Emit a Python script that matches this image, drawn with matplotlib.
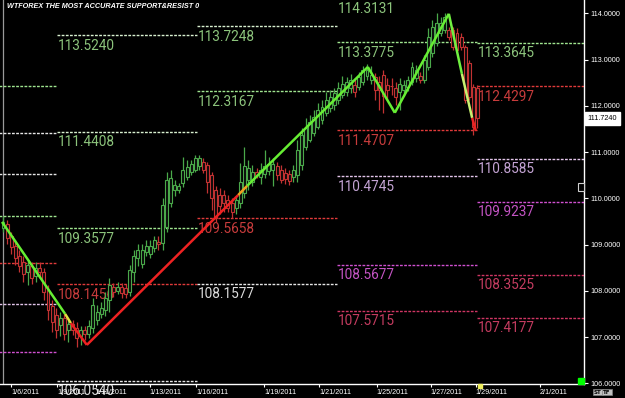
import matplotlib.pyplot as plt
from matplotlib.patches import Rectangle

# 4-hour candles, EURJPY-style price scale
opens = [109.358, 109.445, 109.185, 108.969, 108.753, 108.623, 108.407, 108.537, 108.320, 108.493,
         108.407, 108.018, 107.672, 107.477, 107.261, 107.412, 107.153, 107.282, 107.196, 107.023,
         107.153, 107.066, 107.196, 107.369, 107.499, 107.585, 107.801, 108.083, 107.996, 108.083,
         108.061, 107.975, 108.407, 108.710, 108.580, 108.839, 108.796, 108.926, 109.055, 109.034,
         109.380, 109.899, 110.180, 110.180, 110.331, 110.461, 110.569, 110.612, 110.699, 110.785,
         110.720, 110.504, 110.180, 110.072, 110.072, 109.964, 109.899, 109.791, 109.899, 110.115,
         110.396, 110.353, 110.569, 110.461, 110.526, 110.591, 110.612, 110.699, 110.612, 110.547,
         110.526, 110.461, 110.504, 110.720, 111.110, 111.261, 111.412, 111.542, 111.693, 111.845,
         111.953, 112.018, 112.126, 112.234, 112.299, 112.385, 112.450, 112.407, 112.515, 112.645,
         112.558, 112.623, 112.515, 112.666, 112.450, 112.429, 112.385, 112.299, 112.342, 112.407,
         112.515, 112.601, 112.645, 112.558, 112.839, 113.142, 113.358, 113.575, 113.639, 113.639,
         113.639, 113.575, 113.488, 113.272, 112.926, 112.407, 112.385]
highs = [109.618, 109.531, 109.272, 109.099, 108.883, 108.753, 108.666, 108.623, 108.623, 108.623,
         108.493, 108.126, 107.801, 107.629, 107.542, 107.499, 107.412, 107.369, 107.326, 107.239,
         107.239, 107.369, 107.845, 107.693, 107.758, 107.975, 108.277, 108.169, 108.191, 108.169,
         108.148, 108.558, 108.883, 109.012, 109.012, 109.099, 109.099, 109.185, 109.185, 110.007,
         110.569, 110.612, 110.396, 110.331, 110.893, 110.828, 110.828, 110.937, 110.937, 110.872,
         110.785, 110.569, 110.266, 110.223, 110.180, 110.072, 110.007, 110.050, 110.764, 111.110,
         110.828, 110.720, 110.656, 110.764, 111.045, 110.893, 110.872, 110.785, 110.720, 110.656,
         110.612, 110.720, 111.261, 111.520, 111.737, 111.801, 111.910, 112.061, 112.126, 112.299,
         112.342, 112.385, 112.515, 112.645, 112.623, 112.688, 112.601, 112.731, 112.861, 112.904,
         112.861, 112.710, 112.645, 112.774, 112.601, 112.601, 112.515, 112.601, 112.558, 112.645,
         112.947, 112.883, 112.731, 113.099, 113.683, 113.856, 114.007, 113.920, 114.007, 113.704,
         113.704, 113.683, 113.575, 113.315, 112.991, 112.472, 112.450]
lows = [109.272, 109.012, 108.796, 108.558, 108.407, 108.191, 108.126, 108.148, 108.191, 108.277,
        107.801, 107.369, 107.110, 106.980, 107.023, 106.937, 106.893, 107.045, 106.785, 106.828,
        106.937, 106.980, 107.088, 107.261, 107.412, 107.455, 107.542, 107.866, 107.931, 107.845,
        107.845, 107.888, 108.191, 108.537, 108.493, 108.753, 108.710, 108.839, 108.883, 108.883,
        109.272, 109.812, 110.050, 110.115, 110.245, 110.396, 110.504, 110.569, 110.612, 110.547,
        110.115, 109.747, 109.488, 109.661, 109.704, 109.704, 109.574, 109.661, 109.791, 110.007,
        110.180, 110.266, 110.439, 110.310, 110.439, 110.504, 110.266, 110.396, 110.331, 110.310,
        110.288, 110.353, 110.353, 110.612, 111.045, 111.218, 111.347, 111.499, 111.607, 111.780,
        111.866, 111.910, 112.039, 112.169, 112.212, 112.277, 112.191, 112.342, 112.450, 112.558,
        112.472, 112.126, 111.910, 111.845, 112.126, 112.234, 112.018, 111.910, 112.212, 112.320,
        112.450, 112.515, 112.493, 112.493, 112.774, 113.056, 113.293, 113.510, 113.575, 113.423,
        113.207, 113.164, 113.207, 112.061, 112.126, 111.369, 111.520]
closes = [109.488, 109.142, 108.947, 108.710, 108.537, 108.364, 108.558, 108.277, 108.493, 108.407,
          107.975, 107.585, 107.326, 107.153, 107.412, 107.066, 107.282, 107.153, 106.980, 107.153,
          107.066, 107.239, 107.693, 107.542, 107.629, 107.845, 108.126, 107.975, 108.083, 107.953,
          107.931, 108.450, 108.753, 108.883, 108.883, 108.969, 108.969, 109.099, 109.012, 109.855,
          110.396, 110.439, 110.288, 110.266, 110.612, 110.677, 110.742, 110.872, 110.872, 110.612,
          110.353, 110.007, 109.574, 109.834, 109.899, 109.791, 109.704, 109.964, 110.353, 110.699,
          110.656, 110.569, 110.504, 110.612, 110.699, 110.742, 110.742, 110.504, 110.396, 110.418,
          110.374, 110.612, 111.045, 111.369, 111.520, 111.650, 111.758, 111.910, 111.974, 112.126,
          112.191, 112.277, 112.385, 112.472, 112.515, 112.558, 112.299, 112.623, 112.774, 112.774,
          112.666, 112.342, 112.342, 112.212, 112.342, 112.418, 112.191, 112.472, 112.450, 112.558,
          112.839, 112.774, 112.558, 112.991, 113.488, 113.704, 113.791, 113.791, 113.920, 113.488,
          113.272, 113.207, 113.272, 112.126, 112.191, 111.542, 111.737]
last_price = 111.724

# zigzag vertices (bar, price); extra points where the line changes colour
zigzag_x = [-0.24, 15.2, 16.6, 20.5, 57.5, 59.7, 89.2, 95.8, 109.0, 112.2, 114.7, 115.6]
zigzag_y = [109.49, 107.50, 107.30, 106.83, 110.07, 110.27, 112.84, 111.85, 113.99, 112.69, 111.74, 111.46]

# support / resistance levels, one block per trading day
day_edges = [-1.0, 13.2, 47.4, 81.7, 115.9, 142.05]
level_day = [0, 0, 0, 0, 0, 0, 0,
             1, 1, 1, 1, 1,
             2, 2, 2, 2,
             3, 3, 3, 3, 3, 3,
             4, 4, 4, 4, 4, 4]
level_price = [112.428, 111.412, 110.526, 109.618, 108.601, 107.715, 106.677,
               113.5240, 111.4408, 109.3577, 108.1456, 106.0540,
               113.7248, 112.3167, 109.5658, 108.1577,
               114.3131, 113.3775, 111.4707, 110.4745, 108.5677, 107.5715,
               113.3645, 112.4297, 110.8585, 109.9237, 108.3525, 107.4177]
level_kind = ["R", "W", "W", "R", "P", "S1", "S2",
              "Rw", "Rw", "R", "P", "W",
              "Rw", "R", "P", "W",
              "R", "R", "P", "S1", "S2", "S3",
              "R", "P", "S1", "S2", "S3", "S3"]

date_labels = ["1/6/2011", "1/9/2011", "1/11/2011", "1/13/2011", "1/16/2011", "1/19/2011",
               "1/21/2011", "1/25/2011", "1/27/2011", "1/29/2011", "2/1/2011"]
date_bars = [2.0, 13.2, 22.7, 35.9, 47.2, 63.8, 77.3, 91.4, 104.6, 115.6, 131.3]
price_ticks = [106, 107, 108, 109, 110, 111, 112, 113, 114]

W, H = 625, 398
fig = plt.figure(figsize=(W / 100, H / 100), dpi=100, facecolor="black")
ax = fig.add_axes([0, 14 / H, 584 / W, 384 / H], facecolor="black")
ax.set_xlim(-0.73, 142.05)
ax.set_ylim(105.985, 114.288)

# level lines + labels
line_col = {"R": "#9fe58f", "Rw": "#d8f0d0", "W": "#e6e6e6", "P": "#e03a3a",
            "S1": "#e2c4ea", "S2": "#d050d0", "S3": "#cf3563"}
text_col = {"R": "#8cc47c", "Rw": "#8cc47c", "W": "#dcdcdc", "P": "#c83c3c",
            "S1": "#c4a4d4", "S2": "#c454c4", "S3": "#c43c60"}
for d, p, k in zip(level_day, level_price, level_kind):
    x0, x1 = day_edges[d], day_edges[d + 1]
    ax.hlines(p, x0, x1, colors=line_col[k], linestyles=(0, (2, 1)), lw=1, zorder=1)
    if d > 0:
        ax.annotate(f"{p:.4f}", xy=(x0, p), xytext=(0.8, -2.6), textcoords="offset points",
                    ha="left", va="top", fontsize=9.8, color=text_col[k],
                    family=["Roboto", "DejaVu Sans"], fontweight="normal",
                    annotation_clip=False, zorder=1.5)

# candles
up_c, dn_c = "#4aa84a", "#c23232"
for i, (o, h, l, c) in enumerate(zip(opens, highs, lows, closes)):
    col = up_c if c >= o else dn_c
    ax.vlines(i, l, h, colors=col, lw=0.9, zorder=2)
    lo, hi = min(o, c), max(o, c)
    ax.add_patch(Rectangle((i - 0.36, lo), 0.72, max(hi - lo, 0.01), facecolor="#0a0a0a",
                           edgecolor=col, lw=0.8, zorder=2.1))

# zigzag, coloured per leg
seg_col = ["#66ee33", "#e0e040", "#ee2222", "#ee2222", "#f0a020", "#66ee33",
           "#66ee33", "#66ee33", "#70f040", "#c8f070", "#ee2222"]
for j in range(len(zigzag_x) - 1):
    ax.plot(zigzag_x[j:j + 2], zigzag_y[j:j + 2], color=seg_col[j], lw=1.8,
            solid_capstyle="butt", zorder=3)

ax.axvline(-0.07, color="#9a9a9a", lw=0.9, zorder=0.5)

# axes styling
for s in ["left", "top"]:
    ax.spines[s].set_visible(False)
for s in ["right", "bottom"]:
    ax.spines[s].set_color("white")
    ax.spines[s].set_linewidth(1)
ax.yaxis.tick_right()
ax.set_yticks(price_ticks)
ax.set_yticklabels([f"{t:.4f}" for t in price_ticks])
ax.set_xticks(date_bars)
ax.set_xticklabels(date_labels)
ax.tick_params(axis="y", colors="white", length=3, width=0.8, pad=1.5, labelsize=5.2)
ax.tick_params(axis="x", colors="white", length=2, width=0.8, pad=1.5, labelsize=5.2)
for t in ax.get_xticklabels():
    t.set_ha("left")
    t.set_family("Liberation Sans")
for t in ax.get_yticklabels():
    t.set_family("Liberation Sans")

# current price box
ax.text(1.006, last_price, f"{last_price:.4f}", transform=ax.get_yaxis_transform(),
        ha="left", va="center", fontsize=5.2, color="black", family="Liberation Sans",
        bbox=dict(boxstyle="square,pad=0.4", fc="white", ec="white"), clip_on=False)

fig.text(7 / W, 1 - 3 / H, "WTFOREX THE MOST ACCURATE SUPPORT&RESIST 0", color="white",
         fontsize=5.2, fontweight="bold", fontstyle="italic", family="Liberation Sans",
         ha="left", va="top")

# little terminal widgets
fig.add_artist(Rectangle((578 / W, 14 / H), 6 / W, 6 / H, transform=fig.transFigure,
                         color="#00ff00"))
fig.add_artist(Rectangle((578 / W, (H - 191) / H), 6 / W, 8 / H, transform=fig.transFigure,
                         fc="black", ec="#d0d0d0", lw=0.8))
fig.add_artist(Rectangle((478 / W, (H - 388) / H), 4 / W, 4 / H, transform=fig.transFigure,
                         color="#f0f060"))
for xx, tx in [(594, "ST"), (603, "TF")]:
    fig.text((xx + 4) / W, 1 - 392 / H, tx, fontsize=4, color="black", ha="center",
             va="center", fontweight="bold",
             bbox=dict(boxstyle="square,pad=0.15", fc="#c0c0c0", ec="#808080", lw=0.5))

fig.savefig("out.png", dpi=100, facecolor="black")
